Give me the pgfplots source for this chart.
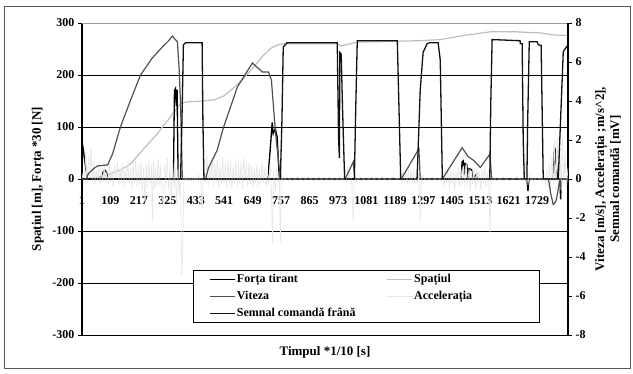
\documentclass[border=0pt]{standalone}
\usepackage{fontspec}
\setmainfont{Liberation Serif}
\usepackage{pgfplots}
\pgfplotsset{compat=1.18}
\definecolor{cForta}{HTML}{000000}
\definecolor{cSpatiul}{HTML}{BEBEBE}
\definecolor{cViteza}{HTML}{505050}
\definecolor{cAccel}{HTML}{E6E6E6}
\definecolor{cSemnal}{HTML}{111111}
\begin{document}
\begin{tikzpicture}
\useasboundingbox (-82pt,-39pt) rectangle (551pt,335pt);
\draw[black!65, line width=0.8pt] (-78pt,-33pt) rectangle (548pt,328.5pt);
\pgfplotsset{
  base/.style={
    scale only axis, width=486pt, height=312pt,
    xmin=1, xmax=1846,
    tick label style={font=\fontsize{12}{14}\selectfont\bfseries},
    /pgf/number format/assume math mode=true,
    /pgf/number format/1000 sep={},
    tick align=outside, major tick length=4pt,
    tick style={black, line width=0.8pt},
    hide obscured x ticks=false, hide obscured y ticks=false,
  }
}
\begin{axis}[base,
  ymin=-300, ymax=300,
  axis x line*=middle, axis y line*=left,
  x axis line style={line width=1.2pt},
  y axis line style={line width=1.8pt},
  xtick={1,109,...,1729},
  xtick style={draw=none},
  xticklabel style={anchor=center, yshift=-18pt},
  ytick={-300,-200,...,200},
  extra y ticks={300},
  extra y tick style={grid style={draw=black!40, line width=0.8pt}},
  ymajorgrids,
  grid style={black, line width=0.7pt},
  every axis y label/.style={at={(axis description cs:0,0.5)}, xshift=-44pt, rotate=90, anchor=center, font=\fontsize{13}{15}\selectfont\bfseries},
  every axis x label/.style={at={(axis description cs:0.5,0)}, yshift=-17pt, anchor=center, font=\fontsize{13}{15}\selectfont\bfseries},
  ylabel={Spațiul [m], Forța *30 [N]},
  xlabel={Timpul *1/10 [s]},
]
% Spatiul [m]
\addplot[cSpatiul, line width=1.2pt] coordinates {
(1,0)(40,2)(80,5)(109,10)(150,18)(185,29)(230,55)(287,87)(330,115)(375,145)(395,148)(460,150)(500,152)(540,160)(576,175)(614,193)(652,215)(690,238)(720,252)(745,258)(765,260)(970,260)(985,256)(1000,258)(1046,263)(1198,265)(1280,266)(1360,268)(1450,276)(1551,283)(1650,283)(1740,281)(1790,277)(1846,276)
};
% Forta tirant *30 [N]
\addplot[cForta, line width=1.3pt] coordinates {
(1,74)(5,60)(10,40)(15,22)(22,0)(70,0)(78,10)(86,17)(92,15)(97,8)(102,0)(348,0)(352,170)(356,174)(359,140)(362,172)(366,0)(705,0)(708,10)(716,60)(723,109)(727,87)(735,97)(742,80)(750,0)(1440,0)(1444,33)(1448,35)(1452,8)(1455,30)(1462,28)(1466,0)(1470,20)(1480,18)(1484,0)(1500,10)(1503,0)(1690,0)(1694,-23)(1698,0)(1790,0)(1795,60)(1797,58)(1799,30)(1803,25)(1806,0)(1815,0)(1818,-39)(1821,0)(1846,0)
};
\end{axis}
\begin{axis}[base,
  ymin=-8, ymax=8,
  axis y line*=right, axis x line=none,
  y axis line style={line width=1.8pt},
  ytick={-8,-6,...,8},
  every axis y label/.style={at={(axis description cs:1,0.5)}, xshift=40pt, rotate=90, anchor=center, align=center, font=\fontsize{13}{15}\selectfont\bfseries},
  ylabel={Viteza [m/s], Accelerația ;m/s\^{}2],\\Semnal comandă [mV]},
  legend columns=2,
  legend cell align=left,
  legend style={at={(0.2284,0.0385)}, anchor=south west, draw=black, fill=white, line width=0.6pt,
    font=\fontsize{12}{14}\selectfont\bfseries, inner xsep=16pt, inner ysep=3pt,
    nodes={inner sep=1.5pt, anchor=west}, row sep=4pt},
  legend image code/.code={\draw[#1, line width=1.2pt] (0pt,0pt) -- (25pt,0pt);},
]
\addlegendimage{cForta}\addlegendentry{\makebox[148pt][l]{Forța tirant}}
\addlegendimage{cSpatiul}\addlegendentry{\makebox[108pt][l]{Spațiul}}
\addlegendimage{cViteza}\addlegendentry{\makebox[148pt][l]{Viteza}}
\addlegendimage{cAccel}\addlegendentry{\makebox[108pt][l]{Accelerația}}
\addlegendimage{cSemnal}\addlegendentry{\makebox[148pt][l]{Semnal comandă frână}}
% Acceleratia [m/s^2]
\addplot[cAccel, line width=0.7pt, forget plot] coordinates {
(1,0)(5,0.3)(10,-0.2)(15,1.5)(20,-0.3)(25,1.2)(30,0.1)(35,1.6)(40,-0.2)(45,0.9)(50,-0.3)(55,0.5)(60,-0.1)(65,0.7)(70,-0.3)(75,0.4)(80,-0.2)(85,0.6)(90,-0.1)(95,0.3)(100,-0.3)(105,0.8)(110,-0.2)(115,0.5)(120,-0.4)(125,0.7)(130,0.0)(135,0.9)(140,-0.3)(145,0.6)(150,-0.2)(155,0.8)(160,-0.4)(165,0.5)(170,-0.1)(175,0.9)(180,-0.3)(185,0.6)(190,-0.5)(195,0.8)(200,-0.2)(205,1.0)(210,-0.4)(215,0.7)(220,-0.3)(225,0.9)(230,-0.6)(235,0.6)(240,-1.2)(245,0.8)(250,-0.4)(255,1.0)(260,-0.3)(265,0.7)(268,-2.2)(272,0.9)(276,-0.5)(280,0.6)(285,-0.4)(290,1.0)(295,-0.3)(300,0.7)(305,-0.8)(310,-1.5)(315,0.8)(320,-0.4)(325,1.1)(330,-0.6)(335,0.7)(340,-1.0)(345,0.9)(350,-0.5)(355,0.6)(360,-1.3)(365,0.5)(370,-0.9)(375,0.4)(380,-5.0)(384,-3.6)(388,0.2)(395,-0.1)(405,0.1)(415,-0.1)(425,0.1)(435,-0.1)(445,0.2)(452,-0.2)(458,-1.5)(462,0.6)
(465,0.5)(470,-0.2)(475,1.2)(480,-0.3)(485,0.9)(490,-0.1)(495,1.1)(500,-0.4)(505,0.8)(510,-0.2)(515,1.0)(520,-0.5)(525,0.7)(530,-0.3)(535,1.1)(540,-0.2)(545,0.8)(550,-0.4)(555,1.0)(560,-0.3)(565,0.9)(570,-0.5)(575,0.7)(580,-0.2)(585,1.0)(590,-0.4)(595,0.8)(600,-0.3)(605,0.9)(610,-0.5)(615,1.1)(620,-0.2)(625,0.8)(630,-0.4)(635,0.9)(640,-0.3)(645,0.7)(650,-0.5)(655,0.6)(660,-0.2)(665,0.7)(670,-0.4)(675,0.5)(680,-0.3)(685,0.8)(690,-0.2)(695,0.6)(700,-0.4)(705,0.5)(710,-0.3)(715,0.7)(720,-0.5)(724,-3.3)(728,0.4)(735,-0.6)(740,0.6)(745,-0.3)(750,0.4)(754,-3.3)(758,0.3)(765,-0.1)
(780,0.1)(800,-0.1)(820,0.1)(840,-0.1)(860,0.1)(880,-0.1)(900,0.1)(920,-0.1)(940,0.1)(960,-0.1)(980,0.1)(995,-0.1)(1000,0.4)(1005,-0.2)(1010,0.6)(1015,-0.1)(1020,0.5)(1025,-0.3)(1031,-2.2)(1035,0.4)(1040,-0.1)(1060,0.1)(1080,-0.1)(1100,0.1)(1120,-0.1)(1140,0.1)(1160,-0.1)(1180,0.1)(1200,0)
(1210,0.2)(1215,-0.2)(1220,0.5)(1225,-0.1)(1230,0.4)(1235,-0.3)(1240,0.5)(1245,-0.2)(1250,0.4)(1255,-0.1)(1260,0.5)(1265,-0.3)(1270,0.4)(1275,-0.2)(1280,0.3)(1285,-2.2)(1290,0.2)(1310,-0.1)(1330,0.1)(1350,-0.1)(1365,0.1)
(1370,0.3)(1375,-0.4)(1380,0.5)(1385,-0.2)(1390,0.6)(1395,-0.5)(1400,0.4)(1405,-0.3)(1410,0.5)(1415,-0.6)(1420,0.4)(1425,-0.2)(1430,0.6)(1435,-0.4)(1440,0.5)(1445,-0.3)(1450,0.7)(1455,-0.5)(1460,0.8)(1465,-0.4)(1470,0.5)(1475,-0.6)(1480,0.4)(1485,-0.3)(1490,0.6)(1495,-0.5)(1500,0.5)(1505,-0.2)(1510,0.4)(1515,-0.6)(1520,0.5)(1525,-0.3)(1530,0.6)(1535,-0.4)(1540,0.3)(1545,-0.2)(1550,-2.8)(1554,0.2)
(1575,-0.1)(1600,0.1)(1625,-0.1)(1650,0.1)(1675,-0.1)(1680,0.4)(1683,1.28)(1686,-0.2)(1690,0.9)(1694,-0.3)(1698,0.2)(1715,-0.1)(1730,0.1)(1745,-0.1)
(1755,0.2)(1760,-0.3)(1765,0.5)(1770,-0.4)(1775,0.8)(1780,-0.6)(1785,1.2)(1790,-0.5)(1795,2.0)(1800,-0.6)(1805,2.1)(1810,-0.4)(1815,1.8)(1820,-0.6)(1825,2.1)(1830,-0.3)(1835,1.5)(1840,-0.5)(1846,0.6)
};
% Viteza [m/s]
\addplot[cViteza, line width=1.2pt, forget plot] coordinates {
(1,0)(18,0)(25,0.27)(45,0.53)(60,0.67)(98,0.72)(117,1.28)(147,2.67)(185,4.03)(223,5.33)(268,6.21)(306,6.77)(330,7.09)(344,7.33)(352,7.2)(363,7.04)(370,5.6)(375,3.89)(382,0)(470,0)(481,0.56)(514,1.47)(538,2.64)(591,4.72)(648,5.95)(685,5.49)(709,5.49)(720,5.07)(735,2.48)(754,0)(1000,0)(1031,0.88)(1036,0)(1213,0)(1280,1.55)(1285,0)(1369,0)(1444,1.6)(1467,1.15)(1490,0.93)(1513,0.59)(1550,1.28)(1556,0)(1772,0)(1780,-0.72)(1790,-1.31)(1800,-1.15)(1808,-0.61)(1815,0)(1846,0)
};
% Semnal comanda frana [mV]
\addplot[cSemnal, line width=1.3pt, forget plot] coordinates {
(1,0)(375,0)(380,2.7)(386,6.88)(394,6.99)(457,6.99)(460,3.0)(464,0)(754,0)(760,3.0)(765,6.77)(780,6.99)(970,6.99)(975,2.13)(978,1.07)(980,6.48)(985,6.4)(990,3.68)(998,0)(1035,0)(1040,3.5)(1046,7.09)(1198,7.09)(1211,0)(1273,0)(1285,4.56)(1296,6.5)(1311,6.93)(1320,6.99)(1353,6.99)(1361,6.1)(1369,0)(1549,0)(1553,4.0)(1558,7.15)(1664,7.09)(1665,6.93)(1672,6.93)(1676,2.0)(1680,0)(1690,0)(1693,3.0)(1699,7.04)(1729,7.04)(1733,6.88)(1744,6.85)(1752,0)(1809,0)(1828,6.53)(1846,6.88)
};
\end{axis}
\end{tikzpicture}
\end{document}
